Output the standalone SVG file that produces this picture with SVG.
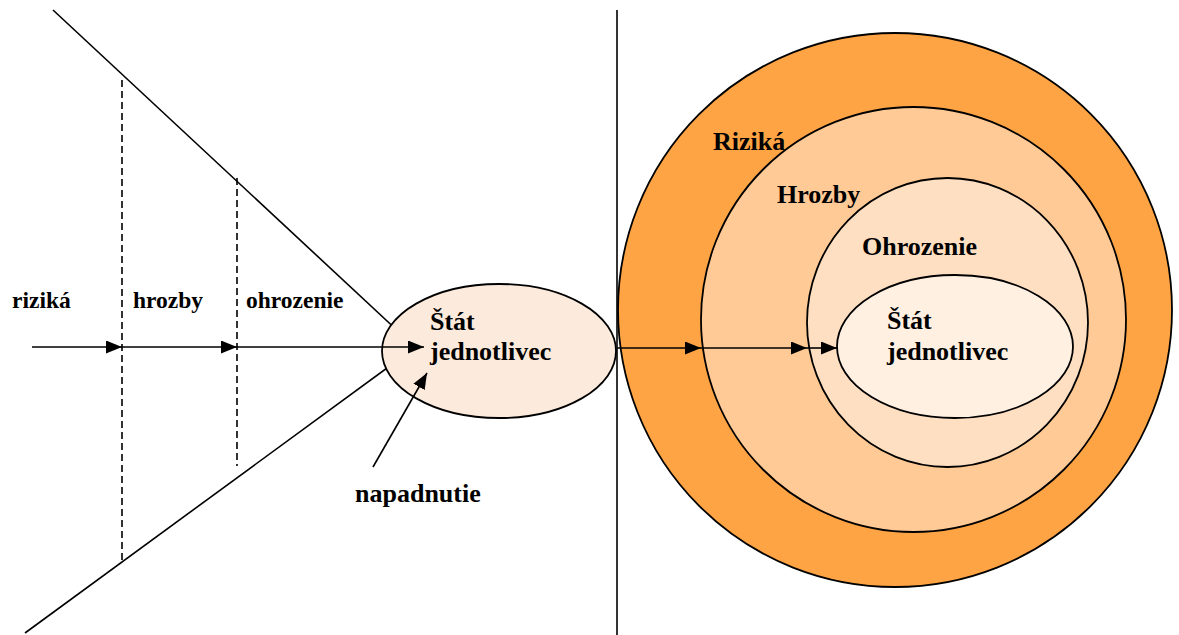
<svg xmlns="http://www.w3.org/2000/svg" width="1179" height="635" viewBox="0 0 1179 635">
<style>
.ln{stroke:#000;stroke-width:1.6;fill:none}
.dash{stroke:#000;stroke-width:1.6;fill:none;stroke-dasharray:7,4}
.sh{stroke:#000;stroke-width:1.8}
.s1{font-size:23.5px}
.s2{font-size:26px}
</style>
<defs>
<marker id="ah" viewBox="0 0 16 13" refX="16" refY="6.5" markerWidth="16" markerHeight="13" markerUnits="userSpaceOnUse" orient="auto">
<path d="M0,0 L16,6.5 L0,13 Z" fill="#000"/>
</marker>
</defs>
<rect width="1179" height="635" fill="#fff"/>
<g id="funnel">
<line class="ln" x1="53" y1="10" x2="415" y2="347"/>
<line class="ln" x1="25" y1="633" x2="413" y2="349"/>
<line class="dash" x1="122" y1="80" x2="122" y2="562"/>
<line class="dash" x1="237" y1="178" x2="237" y2="466"/>
<line class="ln" x1="617" y1="10" x2="617" y2="635"/>
</g>
<g id="node-state-left" font-family="'Liberation Serif', 'Times New Roman', Tinos, 'DejaVu Serif', serif" font-weight="bold" fill="#000">
<ellipse class="sh" cx="499" cy="351" rx="117" ry="67" fill="#FCEBDC"/>
<text class="s2" x="430" y="330">Štát</text>
<text class="s2" x="430" y="360">jednotlivec</text>
</g>
<g id="node-rings" font-family="'Liberation Serif', 'Times New Roman', Tinos, 'DejaVu Serif', serif" font-weight="bold" fill="#000">
<circle class="sh" cx="895" cy="310" r="277" fill="#FFA444"/>
<circle class="sh" cx="913.5" cy="319.5" r="212.5" fill="#FFCA96"/>
<ellipse class="sh" cx="947.5" cy="322.5" rx="140.5" ry="144.5" fill="#FFDFC1"/>
<ellipse class="sh" cx="955" cy="346.5" rx="118" ry="71.5" fill="#FFF0E2"/>
<text class="s2" x="713" y="150">Riziká</text>
<text class="s2" x="777" y="203">Hrozby</text>
<text class="s2" x="862" y="255">Ohrozenie</text>
<text class="s2" x="887" y="329">Štát</text>
<text class="s2" x="887" y="360">jednotlivec</text>
</g>
<g id="labels" font-family="'Liberation Serif', 'Times New Roman', Tinos, 'DejaVu Serif', serif" font-weight="bold" fill="#000">
<text class="s1" x="12" y="308">riziká</text>
<text class="s1" x="133" y="308">hrozby</text>
<text class="s1" x="246" y="308">ohrozenie</text>
<text class="s2" x="355" y="502">napadnutie</text>
</g>
<g id="connectors">
<line class="ln" x1="32" y1="347" x2="122" y2="347" marker-end="url(#ah)"/>
<line class="ln" x1="122" y1="347" x2="237" y2="347" marker-end="url(#ah)"/>
<line class="ln" x1="237" y1="347" x2="424" y2="347" marker-end="url(#ah)"/>
<line class="ln" x1="373" y1="467" x2="427" y2="373" marker-end="url(#ah)"/>
<line class="ln" x1="617" y1="348" x2="701" y2="348" marker-end="url(#ah)"/>
<line class="ln" x1="701" y1="348" x2="807" y2="348" marker-end="url(#ah)"/>
<line class="ln" x1="807" y1="348" x2="837" y2="348" marker-end="url(#ah)"/>
</g>
</svg>
